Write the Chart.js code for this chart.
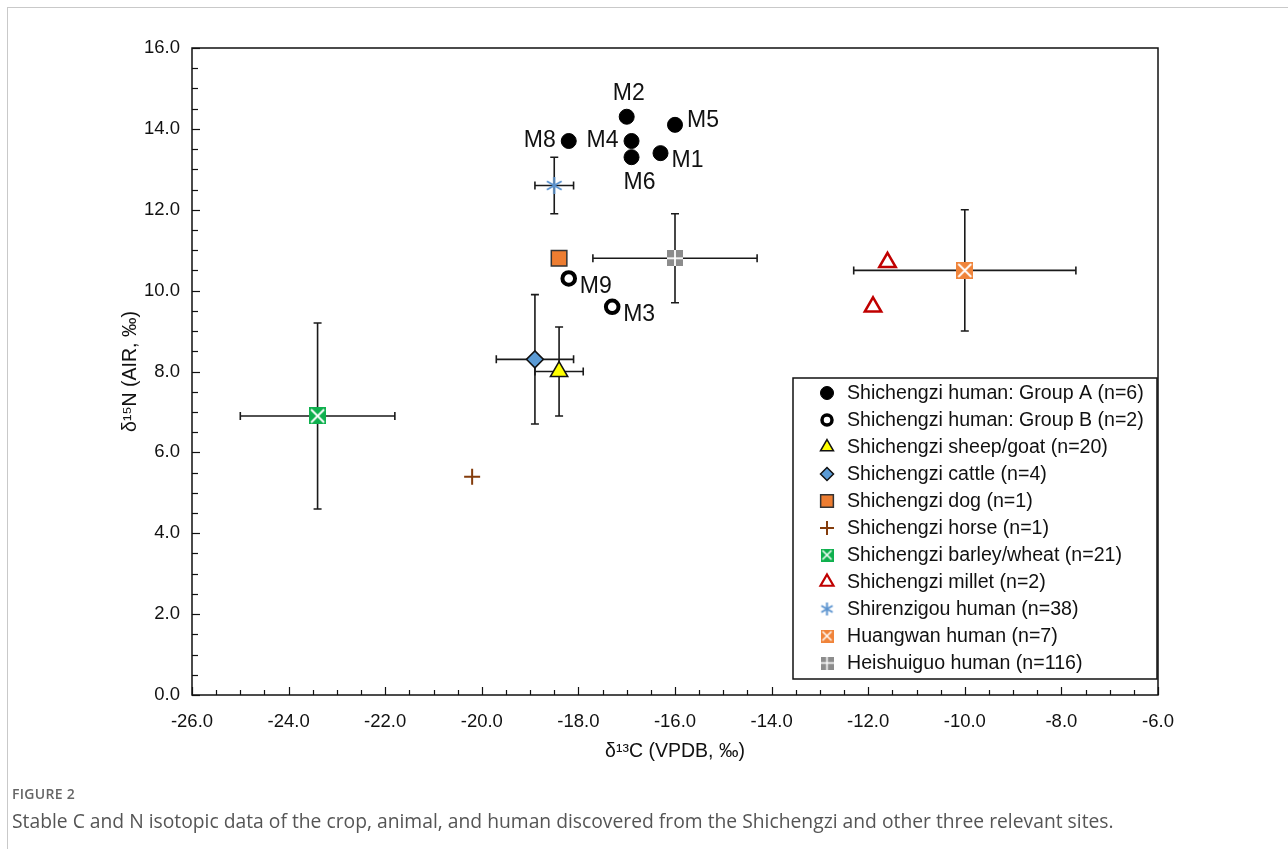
<!DOCTYPE html>
<html>
<head>
<meta charset="utf-8">
<script src="https://cdn.jsdelivr.net/npm/chart.js@4.4.1/dist/chart.umd.min.js"></script>
<style>
  html, body { margin:0; padding:0; background:#fff; }
  #wrap { position:relative; width:1288px; height:849px; overflow:hidden; }
  #frame { position:absolute; left:7px; top:7px; width:1290px; height:860px; border-top:1.5px solid #c9c9c9; border-left:1.5px solid #c9c9c9; }
  canvas { position:absolute; left:0; top:0; }
  #fig { position:absolute; left:12px; top:784px; font-family:"Open Sans", sans-serif; font-size:14px; font-weight:600; color:#666; letter-spacing:0.3px; }
  #cap { position:absolute; left:12px; top:807px; font-family:"Open Sans", sans-serif; font-size:19.3px; color:#555; white-space:nowrap; }
</style>
</head>
<body>
<div id="wrap">
  <div id="frame"></div>
  <canvas id="c" width="1288" height="849"></canvas>
  <div id="fig">FIGURE 2</div>
  <div id="cap">Stable C and N isotopic data of the crop, animal, and human discovered from the Shichengzi and other three relevant sites.</div>
</div>
<script>
// ---------- DATA ----------
const groupA_labels = ['M1','M2','M4','M5','M6','M8'];
const groupA_x = [-16.3, -17.0, -16.9, -16.0, -16.9, -18.2];
const groupA_y = [13.4, 14.3, 13.7, 14.1, 13.3, 13.7];
const groupA_labelDir = ['right-below','above','left','right','below','left'];

const groupB_labels = ['M3','M9'];
const groupB_x = [-17.3, -18.2];
const groupB_y = [9.6, 10.3];
const groupB_labelDir = ['right-below','right-below'];

const sheep_x = [-18.4], sheep_y = [8.0], sheep_ex = [0.5], sheep_ey = [1.1];
const cattle_x = [-18.9], cattle_y = [8.3], cattle_ex = [0.8], cattle_ey = [1.6];
const dog_x = [-18.4], dog_y = [10.8];
const horse_x = [-20.2], horse_y = [5.4];
const barley_x = [-23.4], barley_y = [6.9], barley_ex = [1.6], barley_ey = [2.3];
const millet_x = [-11.6, -11.9], millet_y = [10.7, 9.6];
const shiren_x = [-18.5], shiren_y = [12.6], shiren_ex = [0.4], shiren_ey = [0.7];
const huang_x = [-10.0], huang_y = [10.5], huang_ex = [2.3], huang_ey = [1.5];
const heishui_x = [-16.0], heishui_y = [10.8], heishui_ex = [1.7], heishui_ey = [1.1];

const legendNames = [
  'Shichengzi human: Group A (n=6)',
  'Shichengzi human: Group B (n=2)',
  'Shichengzi sheep/goat (n=20)',
  'Shichengzi cattle (n=4)',
  'Shichengzi dog (n=1)',
  'Shichengzi horse (n=1)',
  'Shichengzi barley/wheat (n=21)',
  'Shichengzi millet (n=2)',
  'Shirenzigou human (n=38)',
  'Huangwan human (n=7)',
  'Heishuiguo human (n=116)'
];
const xTitle = 'δ¹³C (VPDB, ‰)';
const yTitle = 'δ¹⁵N (AIR, ‰)';
const xMin = -26, xMax = -6, yMin = 0, yMax = 16;

// ---------- MARKERS ----------
function mk(size, draw) {
  const c = document.createElement('canvas');
  c.width = size; c.height = size;
  draw(c.getContext('2d'), size);
  return c;
}
function squareX(color) {
  return s => mk(s, (g, n) => {
    g.fillStyle = color; g.fillRect(0, 0, n, n);
    g.strokeStyle = '#fff'; g.lineWidth = Math.max(1.5, n / 9);
    g.beginPath(); g.moveTo(2, 2); g.lineTo(n - 2, n - 2); g.moveTo(n - 2, 2); g.lineTo(2, n - 2); g.stroke();
  });
}
const barleyM = squareX('#0fb04e');
const huangM = squareX('#f0843a');
const heishuiM = s => mk(s, (g, n) => {
  g.fillStyle = '#8c8c8c'; g.fillRect(0, 0, n, n);
  g.fillStyle = '#fff'; const w = Math.max(1.5, n / 9);
  g.fillRect(n / 2 - w / 2, 0, w, n); g.fillRect(0, n / 2 - w / 2, n, w);
});
const shirenM = s => mk(s, (g, n) => {
  g.strokeStyle = '#5b93cf'; g.lineWidth = 2; const c = n / 2, r = n / 2 - 1;
  g.beginPath();
  g.moveTo(c, c - r); g.lineTo(c, c + r);
  const d = r * Math.cos(Math.PI / 6), e = r * Math.sin(Math.PI / 6);
  g.moveTo(c - d, c - e); g.lineTo(c + d, c + e);
  g.moveTo(c + d, c - e); g.lineTo(c - d, c + e);
  g.stroke();
});

function pts(xs, ys) { return xs.map((x, i) => ({ x, y: ys[i] })); }

const datasets = [
  { label: legendNames[0], data: pts(groupA_x, groupA_y), pointStyle: 'circle', pointRadius: 7.5, backgroundColor: '#000', borderColor: '#000', borderWidth: 1, ptLabels: groupA_labels, ptDir: groupA_labelDir, lgR: 6.5 },
  { label: legendNames[1], data: pts(groupB_x, groupB_y), pointStyle: 'circle', pointRadius: 6.3, backgroundColor: '#fff', borderColor: '#000', borderWidth: 4, ptLabels: groupB_labels, ptDir: groupB_labelDir, lgR: 5, lgBW: 3.5 },
  { label: legendNames[2], data: pts(sheep_x, sheep_y), pointStyle: 'triangle', pointRadius: 10, backgroundColor: '#ffff00', borderColor: '#111', borderWidth: 1.5, errX: sheep_ex, errY: sheep_ey, lgR: 7.5 },
  { label: legendNames[3], data: pts(cattle_x, cattle_y), pointStyle: 'rectRot', pointRadius: 8.5, backgroundColor: '#5b9bd5', borderColor: '#111', borderWidth: 1.5, errX: cattle_ex, errY: cattle_ey, lgR: 6.5 },
  { label: legendNames[4], data: pts(dog_x, dog_y), pointStyle: 'rect', pointRadius: 11, backgroundColor: '#ed7d31', borderColor: '#333', borderWidth: 1.5, lgR: 9 },
  { label: legendNames[5], data: pts(horse_x, horse_y), pointStyle: 'cross', pointRadius: 8, backgroundColor: '#843c0c', borderColor: '#843c0c', borderWidth: 2, lgR: 7 },
  { label: legendNames[6], data: pts(barley_x, barley_y), pointStyle: barleyM(17), pointRadius: 9, backgroundColor: '#0fb04e', borderColor: '#0fb04e', borderWidth: 0, errX: barley_ex, errY: barley_ey, lgImg: barleyM(13) },
  { label: legendNames[7], data: pts(millet_x, millet_y), pointStyle: 'triangle', pointRadius: 9.5, backgroundColor: '#fff', borderColor: '#c00000', borderWidth: 2.5, lgR: 7.5, lgBW: 2.2 },
  { label: legendNames[8], data: pts(shiren_x, shiren_y), pointStyle: shirenM(19), pointRadius: 9, backgroundColor: '#5b93cf', borderColor: '#5b93cf', borderWidth: 0, errX: shiren_ex, errY: shiren_ey, lgImg: shirenM(15) },
  { label: legendNames[9], data: pts(huang_x, huang_y), pointStyle: huangM(17), pointRadius: 9, backgroundColor: '#f0843a', borderColor: '#f0843a', borderWidth: 0, errX: huang_ex, errY: huang_ey, lgImg: huangM(13) },
  { label: legendNames[10], data: pts(heishui_x, heishui_y), pointStyle: heishuiM(16), pointRadius: 8, backgroundColor: '#8c8c8c', borderColor: '#8c8c8c', borderWidth: 0, errX: heishui_ex, errY: heishui_ey, lgImg: heishuiM(13) }
];
datasets.forEach(d => { d.pointHoverRadius = d.pointRadius; d.showLine = false; });

const FONT = '"Liberation Sans", Arial, sans-serif';

// ---------- PLUGINS ----------
const framePlugin = {
  id: 'frame',
  beforeDatasetsDraw(chart) {
    const { ctx, chartArea: a, scales } = chart;
    ctx.save();
    ctx.strokeStyle = '#111'; ctx.lineWidth = 1.5;
    ctx.strokeRect(a.left, a.top, a.right - a.left, a.bottom - a.top);
    ctx.lineWidth = 1.2;
    for (let v = xMin; v <= xMax + 1e-9; v += 0.5) {
      const px = Math.round(scales.x.getPixelForValue(v)) + 0.5;
      const major = Math.abs(v / 2 - Math.round(v / 2)) < 1e-6;
      const L = major ? 8 : 5;
      ctx.beginPath(); ctx.moveTo(px, a.bottom); ctx.lineTo(px, a.bottom - L); ctx.stroke();
    }
    for (let v = yMin; v <= yMax + 1e-9; v += 0.5) {
      const py = Math.round(scales.y.getPixelForValue(v)) + 0.5;
      const major = Math.abs(v / 2 - Math.round(v / 2)) < 1e-6;
      const L = major ? 8 : 6;
      ctx.beginPath(); ctx.moveTo(a.left, py); ctx.lineTo(a.left + L, py); ctx.stroke();
    }
    ctx.strokeStyle = '#1a1a1a'; ctx.lineWidth = 1.6;
    const xs = scales.x, ys = scales.y, cap = 4;
    chart.data.datasets.forEach(ds => {
      if (!ds.errX) return;
      ds.data.forEach((p, i) => {
        const px = xs.getPixelForValue(p.x), py = ys.getPixelForValue(p.y);
        const x1 = xs.getPixelForValue(p.x - ds.errX[i]), x2 = xs.getPixelForValue(p.x + ds.errX[i]);
        const y1 = ys.getPixelForValue(p.y + ds.errY[i]), y2 = ys.getPixelForValue(p.y - ds.errY[i]);
        ctx.beginPath();
        ctx.moveTo(x1, py); ctx.lineTo(x2, py);
        ctx.moveTo(x1, py - cap); ctx.lineTo(x1, py + cap);
        ctx.moveTo(x2, py - cap); ctx.lineTo(x2, py + cap);
        ctx.moveTo(px, y1); ctx.lineTo(px, y2);
        ctx.moveTo(px - cap, y1); ctx.lineTo(px + cap, y1);
        ctx.moveTo(px - cap, y2); ctx.lineTo(px + cap, y2);
        ctx.stroke();
      });
    });
    ctx.restore();
  }
};

const labelPlugin = {
  id: 'ptlabels',
  afterDatasetsDraw(chart) {
    const ctx = chart.ctx;
    ctx.save();
    ctx.font = '23px ' + FONT; ctx.fillStyle = '#111';
    chart.data.datasets.forEach((ds, di) => {
      if (!ds.ptLabels) return;
      const meta = chart.getDatasetMeta(di);
      meta.data.forEach((el, i) => {
        const t = ds.ptLabels[i], dir = ds.ptDir[i];
        let x = el.x, y = el.y;
        ctx.textBaseline = 'middle';
        if (dir === 'above') { ctx.textAlign = 'center'; y -= 23; x += 2; }
        else if (dir === 'below') { ctx.textAlign = 'center'; y += 25; x += 8; }
        else if (dir === 'left') { ctx.textAlign = 'right'; x -= 13; }
        else if (dir === 'right') { ctx.textAlign = 'left'; x += 12; y -= 4; }
        else if (dir === 'right-below') { ctx.textAlign = 'left'; x += 11; y += 8; }
        ctx.fillText(t, x, y);
      });
    });
    ctx.restore();
  }
};

const legendPlugin = {
  id: 'boxlegend',
  afterDraw(chart) {
    const ctx = chart.ctx, a = chart.chartArea;
    const w = 364, h = 301;
    const left = a.right - w - 1, top = a.bottom - 16 - h;
    ctx.save();
    ctx.fillStyle = '#fff'; ctx.fillRect(left, top, w, h);
    ctx.strokeStyle = '#111'; ctx.lineWidth = 1.5;
    ctx.strokeRect(left, top, w, h);
    ctx.font = '19.6px ' + FONT; ctx.textBaseline = 'middle'; ctx.textAlign = 'left';
    chart.data.datasets.forEach((ds, i) => {
      const cy = top + 15 + i * 27, cx = left + 34;
      if (ds.lgImg) {
        ctx.drawImage(ds.lgImg, cx - ds.lgImg.width / 2, cy - ds.lgImg.height / 2);
      } else {
        ctx.fillStyle = ds.backgroundColor; ctx.strokeStyle = ds.borderColor;
        ctx.lineWidth = ds.lgBW || ds.borderWidth;
        Chart.helpers.drawPoint(ctx, { pointStyle: ds.pointStyle, radius: ds.lgR, borderWidth: ds.lgBW || ds.borderWidth, rotation: 0 }, cx, cy);
      }
      ctx.fillStyle = '#111';
      ctx.fillText(ds.label, left + 54, cy + 1);
    });
    ctx.restore();
  }
};

Chart.defaults.font.family = FONT;
Chart.defaults.color = '#111';

new Chart(document.getElementById('c'), {
  type: 'scatter',
  data: { datasets },
  options: {
    responsive: false,
    animation: false,
    events: [],
    layout: { padding: { left: 115, top: 48, right: 130, bottom: 82 } },
    plugins: { legend: { display: false }, tooltip: { enabled: false } },
    scales: {
      x: {
        type: 'linear', min: xMin, max: xMax,
        grid: { display: false, drawTicks: false },
        border: { display: false },
        ticks: { stepSize: 2, padding: 16, font: { size: 18.5 }, color: '#111', callback: v => v.toFixed(1) },
        title: { display: true, text: xTitle, font: { size: 19.5 }, color: '#111' },
        afterFit: s => { s.height = 72; }
      },
      y: {
        type: 'linear', min: yMin, max: yMax,
        grid: { display: false, drawTicks: false },
        border: { display: false },
        ticks: { stepSize: 2, padding: 12, font: { size: 18.5 }, color: '#111', callback: v => v.toFixed(1) },
        title: { display: true, text: yTitle, font: { size: 19.5 }, color: '#111' },
        afterFit: s => { s.width = 77; }
      }
    }
  },
  plugins: [framePlugin, labelPlugin, legendPlugin]
});
</script>
</body>
</html>
